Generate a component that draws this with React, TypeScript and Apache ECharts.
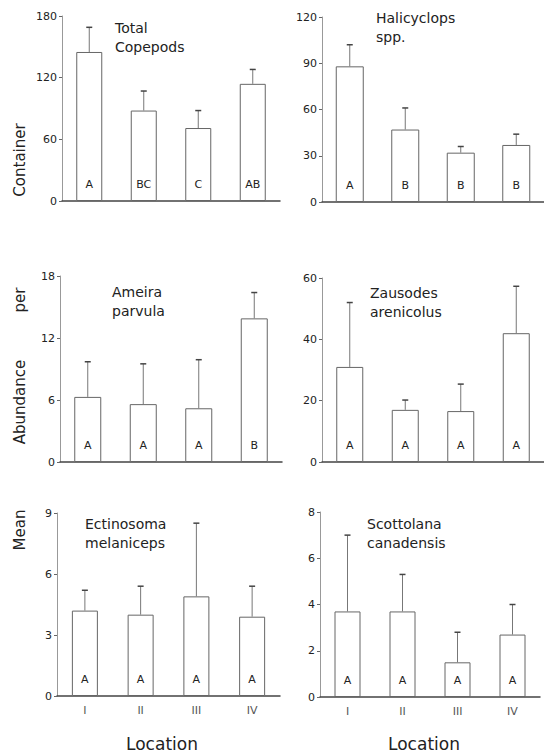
import React, { useEffect, useRef } from "react";
import * as echarts from "echarts";

const categories = ["I", "II", "III", "IV"];

const totalMeans = [145, 88, 71, 114];
const totalUpper = [169, 107, 88, 128];
const totalLetters = ["A", "BC", "C", "AB"];

const haliMeans = [88, 47, 32, 37];
const haliUpper = [102, 61, 36, 44];
const haliLetters = ["A", "B", "B", "B"];

const ameiraMeans = [6.3, 5.6, 5.2, 13.9];
const ameiraUpper = [9.7, 9.5, 9.9, 16.4];
const ameiraLetters = ["A", "A", "A", "B"];

const zausMeans = [31, 17, 16.6, 42];
const zausUpper = [52, 20.2, 25.4, 57.3];
const zausLetters = ["A", "A", "A", "A"];

const ectiMeans = [4.2, 4.0, 4.9, 3.9];
const ectiUpper = [5.2, 5.4, 8.5, 5.4];
const ectiLetters = ["A", "A", "A", "A"];

const scotMeans = [3.7, 3.7, 1.5, 2.7];
const scotUpper = [7.0, 5.3, 2.8, 4.0];
const scotLetters = ["A", "A", "A", "A"];

const panelTitles = [
  "Total\nCopepods",
  "Halicyclops\nspp.",
  "Ameira\nparvula",
  "Zausodes\narenicolus",
  "Ectinosoma\nmelaniceps",
  "Scottolana\ncanadensis",
];
const yMax = [180, 120, 18, 60, 9, 8];
const yInterval = [60, 30, 6, 20, 3, 2];

const FONT = "'DejaVu Sans', sans-serif";

export default function App() {
  const ref = useRef<HTMLDivElement>(null);
  useEffect(() => {
    if (!ref.current) return;
    const chart = echarts.init(ref.current, null, { renderer: "svg" });

    const panels = [
      { means: totalMeans, upper: totalUpper, letters: totalLetters },
      { means: haliMeans, upper: haliUpper, letters: haliLetters },
      { means: ameiraMeans, upper: ameiraUpper, letters: ameiraLetters },
      { means: zausMeans, upper: zausUpper, letters: zausLetters },
      { means: ectiMeans, upper: ectiUpper, letters: ectiLetters },
      { means: scotMeans, upper: scotUpper, letters: scotLetters },
    ];

    const grids = [
      { left: 62, top: 16, width: 218, height: 185 },
      { left: 322, top: 17, width: 222, height: 185 },
      { left: 60, top: 276, width: 222, height: 186 },
      { left: 322, top: 278, width: 222, height: 184 },
      { left: 57, top: 513, width: 223, height: 183 },
      { left: 320, top: 512, width: 220, height: 185 },
    ];
    const barWidths = [26, 28, 27, 27, 26, 26];
    const titlePos = [
      [115, 18],
      [376, 8],
      [112, 282],
      [370, 283],
      [85, 514],
      [367, 514],
    ];

    const xAxes = grids.map((_, i) => ({
      type: "category",
      gridIndex: i,
      data: categories,
      axisLine: { show: true, lineStyle: { color: "#444", width: 1.5 } },
      axisTick: { show: false },
      axisLabel: {
        show: i >= 4,
        color: "#555",
        fontSize: 11,
        fontFamily: FONT,
        margin: 9,
      },
    }));

    const yAxes = grids.map((_, i) => ({
      type: "value",
      gridIndex: i,
      min: 0,
      max: yMax[i],
      interval: yInterval[i],
      splitLine: { show: false },
      axisLine: { show: true, lineStyle: { color: "#999", width: 1 } },
      axisTick: { show: true, length: 3, lineStyle: { color: "#666" } },
      axisLabel: { color: "#222", fontSize: 11, fontFamily: FONT, margin: 5 },
    }));

    const series: any[] = [];
    panels.forEach((p, i) => {
      series.push({
        type: "bar",
        xAxisIndex: i,
        yAxisIndex: i,
        data: p.means,
        barWidth: barWidths[i],
        itemStyle: { color: "#fff", borderColor: "#666", borderWidth: 1 },
        label: {
          show: true,
          position: "insideBottom",
          distance: 11,
          color: "#222",
          fontSize: 11,
          fontFamily: FONT,
          formatter: (params: any) => p.letters[params.dataIndex],
        },
        z: 2,
      });
      series.push({
        type: "custom",
        xAxisIndex: i,
        yAxisIndex: i,
        data: p.means.map((m, j) => [j, m, p.upper[j]]),
        renderItem: (params: any, api: any) => {
          const x = api.value(0);
          const lo = api.coord([x, api.value(1)]);
          const hi = api.coord([x, api.value(2)]);
          return {
            type: "group",
            children: [
              {
                type: "line",
                shape: { x1: lo[0], y1: lo[1], x2: hi[0], y2: hi[1] },
                style: { stroke: "#777", lineWidth: 1 },
              },
              {
                type: "line",
                shape: { x1: hi[0] - 3, y1: hi[1], x2: hi[0] + 3, y2: hi[1] },
                style: { stroke: "#444", lineWidth: 1.5 },
              },
            ],
          };
        },
        z: 3,
      });
    });

    const graphics: any[] = panelTitles.map((t, i) => ({
      type: "text",
      x: titlePos[i][0],
      y: titlePos[i][1],
      style: {
        text: t,
        fill: "#222",
        fontSize: 14,
        lineHeight: 19,
        fontFamily: FONT,
      },
    }));

    const yLabelParts = [
      ["Container", 160],
      ["per", 300],
      ["Abundance", 402],
      ["Mean", 530],
    ];
    yLabelParts.forEach(([t, y]) => {
      graphics.push({
        type: "text",
        x: 20,
        y: y as number,
        rotation: Math.PI / 2,
        style: {
          text: t as string,
          fill: "#222",
          fontSize: 15,
          fontFamily: FONT,
          align: "center",
          verticalAlign: "middle",
        },
      });
    });
    [162, 424].forEach((x) => {
      graphics.push({
        type: "text",
        x,
        y: 744,
        style: {
          text: "Location",
          fill: "#222",
          fontSize: 17,
          fontFamily: FONT,
          align: "center",
          verticalAlign: "middle",
        },
      });
    });

    chart.setOption({
      animation: false,
      backgroundColor: "#fff",
      grid: grids.map((g) => ({ ...g, containLabel: false })),
      xAxis: xAxes,
      yAxis: yAxes,
      series,
      graphic: graphics,
    });
    return () => chart.dispose();
  }, []);

  return <div ref={ref} style={{ width: 544, height: 754, position: "absolute", left: 0, top: 0 }} />;
}
